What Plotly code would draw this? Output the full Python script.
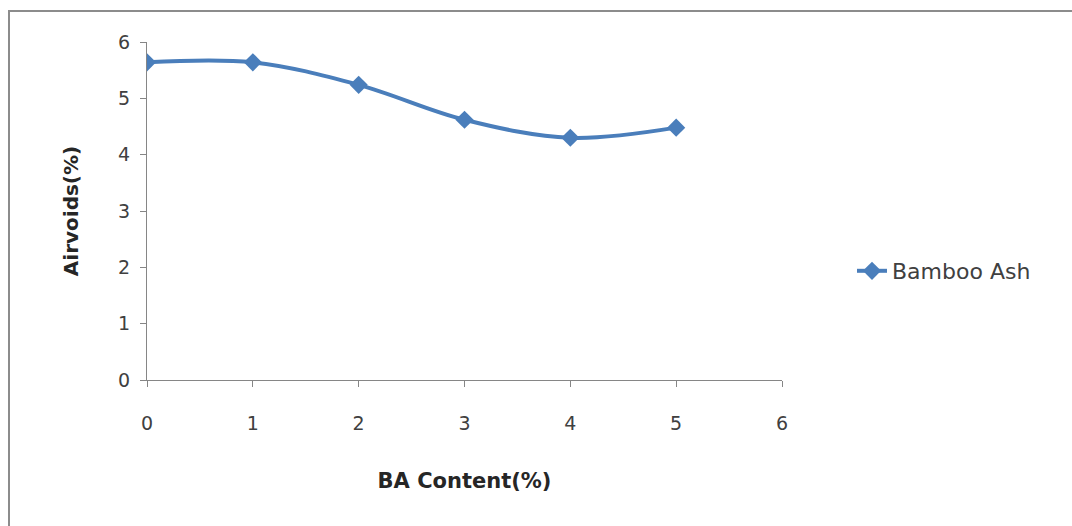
import plotly.graph_objects as go

# Air voids vs bamboo ash content
ba_content = [0, 1, 2, 3, 4, 5]
air_voids = [5.64, 5.64, 5.24, 4.62, 4.30, 4.48]
x_ticks = [0, 1, 2, 3, 4, 5, 6]
y_ticks = [0, 1, 2, 3, 4, 5, 6]

W, H = 1072, 526
ml, mr, mt, mb = 147, 290, 42, 146
pw, ph = W - ml - mr, H - mt - mb

blue = "#4A7EBB"
axis_grey = "#868686"
font_family = "'DejaVu Sans', sans-serif"

fig = go.Figure()
fig.add_trace(go.Scatter(
    x=ba_content, y=air_voids, name="Bamboo Ash",
    mode="lines+markers",
    line=dict(color=blue, width=4, shape="spline", smoothing=1.0),
    marker=dict(symbol="diamond", size=14, color=blue),
))

fig.update_layout(
    width=W, height=H,
    margin=dict(l=ml, r=mr, t=mt, b=mb),
    paper_bgcolor="white", plot_bgcolor="white",
    font=dict(family=font_family, size=19, color="#404040"),
    showlegend=True,
    legend=dict(x=(852 - ml) / pw, y=(380 - 271) / ph, xanchor="left", yanchor="middle",
                font=dict(size=22, color="#404040"), bgcolor="rgba(0,0,0,0)"),
    xaxis=dict(range=[0, 6], tickvals=x_ticks, showgrid=False, zeroline=False,
               showline=True, linecolor=axis_grey, linewidth=1,
               ticks="outside", ticklen=6, tickcolor=axis_grey,
               ticklabelstandoff=20,
               title=dict(text="<b>BA Content(%)</b>", font=dict(size=21, color="#262626"),
                          standoff=40)),
    yaxis=dict(range=[0, 6], tickvals=y_ticks, showgrid=False, zeroline=False,
               showline=True, linecolor=axis_grey, linewidth=1,
               ticks="outside", ticklen=6, tickcolor=axis_grey,
               ticklabelstandoff=6,
               title=dict(text="<b>Airvoids(%)</b>", font=dict(size=20, color="#262626"),
                          standoff=34)),
    shapes=[dict(type="rect", xref="paper", yref="paper",
                 x0=(9 - ml) / pw, x1=(W + 5 - ml) / pw,
                 y0=-(mb + 5) / ph, y1=1 + (mt - 11) / ph,
                 line=dict(color="#8c8c8c", width=2), fillcolor="rgba(0,0,0,0)",
                 layer="below")],
)

fig.write_html("out.html")
